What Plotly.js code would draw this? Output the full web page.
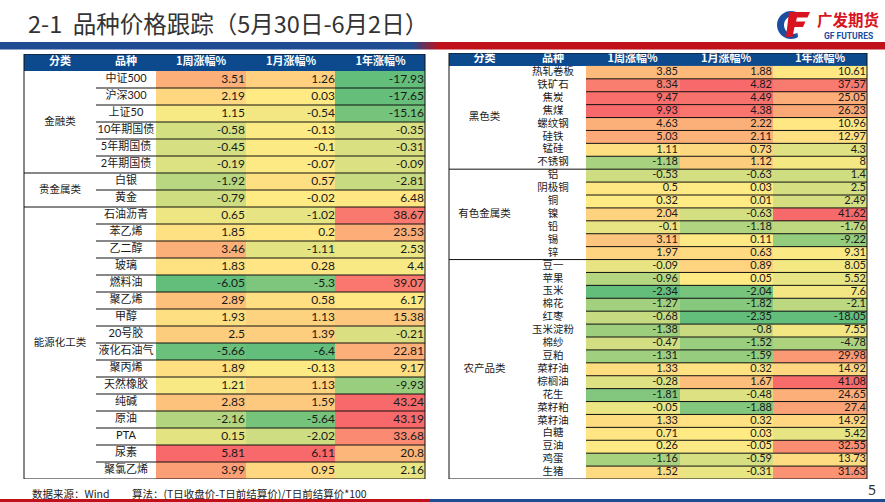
<!DOCTYPE html>
<html><head><meta charset="utf-8">
<script src="https://cdn.plot.ly/plotly-3.0.1.min.js"></script>
<style>html,body{margin:0;padding:0;background:#fff}#chart{width:885px;height:502px}</style>
</head><body><div id="chart"></div>
<script>
// ---------------- DATA ----------------
const headers = ['分类', '品种', '1周涨幅%', '1月涨幅%', '1年涨幅%'];

const leftGroups = ['金融类', '贵金属类', '能源化工类'];
const leftGroupSizes = [6, 2, 16];
const leftNames = ['中证500','沪深300','上证50','10年期国债','5年期国债','2年期国债','白银','黄金',
  '石油沥青','苯乙烯','乙二醇','玻璃','燃料油','聚乙烯','甲醇','20号胶','液化石油气','聚丙烯',
  '天然橡胶','纯碱','原油','PTA','尿素','聚氯乙烯'];
const leftWeek = [3.51,2.19,1.15,-0.58,-0.45,-0.19,-1.92,-0.79,0.65,1.85,3.46,1.83,-6.05,2.89,1.93,2.5,-5.66,1.89,1.21,2.83,-2.16,0.15,5.81,3.99];
const leftMonth = [1.26,0.03,-0.54,-0.13,-0.1,-0.07,0.57,-0.02,-1.02,0.2,-1.11,0.28,-5.3,0.58,1.13,1.39,-6.4,-0.13,1.13,1.59,-5.64,-2.02,6.11,0.95];
const leftYear = [-17.93,-17.65,-15.16,-0.35,-0.31,-0.09,-2.81,6.48,38.67,23.53,2.53,4.4,39.07,6.17,15.38,-0.21,22.81,9.17,-9.93,43.24,43.19,33.68,20.8,2.16];

const rightGroups = ['黑色类', '有色金属类', '农产品类'];
const rightGroupSizes = [8, 7, 17];
const rightNames = ['热轧卷板','铁矿石','焦炭','焦煤','螺纹钢','硅铁','锰硅','不锈钢',
  '铝','阴极铜','铜','镍','铅','锡','锌',
  '豆一','苹果','玉米','棉花','红枣','玉米淀粉','棉纱','豆粕','菜籽油','棕榈油','花生','菜籽粕','菜籽油','白糖','豆油','鸡蛋','生猪'];
const rightWeek = [3.85,8.34,9.47,9.93,4.63,5.03,1.11,-1.18,-0.53,0.5,0.32,2.04,-0.1,3.11,1.97,-0.09,-0.96,-2.34,-1.27,-0.68,-1.38,-0.47,-1.31,1.33,-0.28,-1.81,-0.05,1.33,0.71,0.26,-1.16,1.52];
const rightMonth = [1.88,4.82,4.49,4.38,2.22,2.11,0.73,1.12,-0.63,0.03,0.01,-0.63,-1.18,0.11,0.63,0.89,0.05,-2.04,-1.82,-2.35,-0.8,-1.52,-1.59,0.32,1.67,-0.48,-1.88,0.32,0.03,-0.05,-0.59,-0.31];
const rightYear = [10.61,37.57,25.05,26.23,10.96,12.97,4.3,8,1.4,2.5,2.49,41.62,-1.76,-9.22,9.31,8.05,5.52,7.6,-2.1,-18.05,7.55,-4.78,29.98,14.92,41.08,24.65,27.4,14.92,5.42,32.55,13.73,31.63];

const titleText = '2-1  品种价格跟踪（5月30日-6月2日）';
const sourceText = '数据来源：Wind';
const methodText = '算法：(T日收盘价-T日前结算价)/T日前结算价*100';
const pageNo = '5';

// ---------------- LAYOUT / STYLE ----------------
const W = 885, H = 502;
const CJK = 'Noto Sans CJK SC';
const NUMF = 'Lato, Noto Sans CJK SC';
const HEAD_BG = '#0D4A8D';
const LINE = '#111111';
const SCALE = [[0, '#63BE7B'], [0.5, '#FFEB84'], [1, '#F8696B']];

const LT = {edges: [24, 96, 156, 246, 336, 425], top: 54, bottom: 479, ya: 'y',
  numSize: 12, nameSize: 11, groupSize: 10.5, headSize: 11, rowLineFrom: 1};
const RT = {edges: [449, 520, 586, 679, 773, 867], top: 53, bottom: 479, ya: 'y2',
  numSize: 11, nameSize: 10.5, groupSize: 10.5, headSize: 11, rowLineFrom: 2};

// Excel-like 3-colour scale: min -> 0, median -> 0.5, max -> 1
function median(a) { const s = [...a].sort((p, q) => p - q); const n = s.length;
  return n % 2 ? s[(n - 1) / 2] : (s[n / 2 - 1] + s[n / 2]) / 2; }
function normalize(a) {
  const mn = Math.min(...a), mx = Math.max(...a), md = median(a);
  return a.map(v => v <= md ? (md === mn ? 0.5 : 0.5 * (v - mn) / (md - mn))
                            : 0.5 + 0.5 * (v - md) / (mx - md));
}

const traces = [];
const shapes = [];

function buildTable(cfg, groups, sizes, names, cols) {
  const n = names.length;
  const e = cfg.edges;
  const center = k => (e[k] + e[k + 1]) / 2;
  const idx = names.map((_, i) => i);
  const norm = cols.map(normalize);
  traces.push({type: 'heatmap', xaxis: 'x', yaxis: cfg.ya,
    x: [e[2], e[3], e[4], e[5]], y: idx,
    z: idx.map(i => norm.map(c => c[i])),
    colorscale: SCALE, zmin: 0, zmax: 1, showscale: false, hoverinfo: 'skip'});
  shapes.push({type: 'rect', xref: 'x', yref: cfg.ya, x0: e[0], x1: e[5], y0: -1.5, y1: -0.5,
    fillcolor: HEAD_BG, line: {width: 0}, layer: 'below'});
  traces.push({type: 'scatter', mode: 'text', xaxis: 'x', yaxis: cfg.ya,
    x: headers.map((_, k) => center(k)), y: headers.map(() => -1),
    text: headers.map(h => '<b>' + h + '</b>'), textposition: 'middle center',
    textfont: {family: CJK, size: cfg.headSize, color: '#ffffff'}, hoverinfo: 'skip'});
  traces.push({type: 'scatter', mode: 'text', xaxis: 'x', yaxis: cfg.ya,
    x: idx.map(() => center(1)), y: idx, text: names, textposition: 'middle center',
    textfont: {family: NUMF, size: cfg.nameSize, color: '#1a1a1a'}, hoverinfo: 'skip'});
  cols.forEach((c, k) => {
    traces.push({type: 'scatter', mode: 'text', xaxis: 'x', yaxis: cfg.ya,
      x: idx.map(() => e[k + 3] - 1), y: idx, text: c.map(v => String(v)),
      textposition: 'middle left',
      textfont: {family: NUMF, size: cfg.numSize, color: '#1a1a1a'}, hoverinfo: 'skip'});
  });
  let start = 0;
  const gy = [];
  const bounds = [];
  sizes.forEach(s => { gy.push(start + (s - 1) / 2); start += s; bounds.push(start); });
  traces.push({type: 'scatter', mode: 'text', xaxis: 'x', yaxis: cfg.ya,
    x: groups.map(() => center(0)), y: gy, text: groups, textposition: 'middle center',
    textfont: {family: CJK, size: cfg.groupSize, color: '#1a1a1a'}, hoverinfo: 'skip'});
  const groupEnds = new Set(bounds.slice(0, -1));
  for (let i = 1; i < n; i++) {
    const full = groupEnds.has(i);
    shapes.push({type: 'line', xref: 'x', yref: cfg.ya,
      x0: full ? e[0] : e[cfg.rowLineFrom], x1: e[5], y0: i - 0.5, y1: i - 0.5,
      line: {color: LINE, width: 1}});
  }
  shapes.push({type: 'rect', xref: 'x', yref: cfg.ya, x0: e[0], x1: e[5], y0: -1.5, y1: n - 0.5,
    line: {color: LINE, width: 1}, fillcolor: 'rgba(0,0,0,0)'});
}

buildTable(LT, leftGroups, leftGroupSizes, leftNames, [leftWeek, leftMonth, leftYear]);
buildTable(RT, rightGroups, rightGroupSizes, rightNames, [rightWeek, rightMonth, rightYear]);

// ---------- decorations (paper coords from pixels) ----------
const PX = x => x / W, PY = y => 1 - y / H;
function prect(x0, y0, x1, y1, color) {
  shapes.push({type: 'rect', xref: 'paper', yref: 'paper', x0: PX(x0), x1: PX(x1), y0: PY(y1), y1: PY(y0),
    fillcolor: color, line: {width: 0}, layer: 'below'});
}
function ppath(pts, color) {
  shapes.push({type: 'path', xref: 'paper', yref: 'paper', fillcolor: color, line: {width: 0},
    path: 'M ' + pts.map(p => PX(p[0]).toFixed(5) + ',' + PY(p[1]).toFixed(5)).join(' L ') + ' Z'});
}
prect(0, 42, 410, 49.5, '#1E4B91');
const blend = 8;
for (let k = 0; k < blend; k++) {
  const t = k / (blend - 1);
  const r = Math.round(0x1E + (0xC0 - 0x1E) * t), g = Math.round(0x4B + (0x10 - 0x4B) * t), b = Math.round(0x91 + (0x1A - 0x91) * t);
  prect(410 + k * 4, 42, 414 + k * 4, 49.5, `rgb(${r},${g},${b})`);
}
prect(442, 42, 885, 49.5, '#C0101A');
prect(0, 499, 430, 502, '#C0101A');
prect(430, 499, 885, 502, '#1E4B91');

// logo icon
const arc = [];
for (let a = 60; a <= 300; a += 10) { const r = a * Math.PI / 180; arc.push([791 + 14 * Math.cos(r), 25 - 14 * Math.sin(r)]); }
for (let a = 300; a >= 60; a -= 10) { const r = a * Math.PI / 180; arc.push([793 + 9 * Math.cos(r), 25 - 9 * Math.sin(r)]); }
ppath(arc, '#1B4E9E');
ppath([[789, 12], [810, 12], [807.5, 17.5], [797, 17.5], [796, 21.5], [805.5, 21.5], [803, 27], [794.5, 27], [792.5, 37], [786, 37]], '#D7141F');

const A = (text, x, y, font, xanchor) => ({text, x: PX(x), y: PY(y), xref: 'paper', yref: 'paper',
  xanchor: xanchor || 'center', yanchor: 'middle', showarrow: false, font});
const annotations = [
  A('<b>广发期货</b>', 848, 19.5, {family: CJK, size: 15.5, color: '#D7141F'}),
  A('<b>GF FUTURES</b>', 848, 35.5, {family: 'Roboto, DejaVu Sans', size: 8.5, color: '#1B4E9E'}),
  A(sourceText, 30, 493, {family: CJK, size: 10.5, color: '#222'}, 'left'),
  A(methodText, 130, 493, {family: CJK, size: 10.5, color: '#222'}, 'left'),
  A(pageNo, 872, 489, {family: 'Noto Sans', size: 14, color: '#333'})
];

const hidden = {visible: false, showgrid: false, zeroline: false, fixedrange: true};
const layout = {
  width: W, height: H,
  margin: {l: 0, r: 0, t: 0, b: 0, pad: 0},
  paper_bgcolor: '#ffffff', plot_bgcolor: 'rgba(0,0,0,0)',
  showlegend: false,
  title: {text: titleText, x: PX(28), xanchor: 'left', y: PY(25), yanchor: 'middle', xref: 'paper', yref: 'paper',
    font: {family: CJK, size: 23.5, color: '#333333'}},
  xaxis: Object.assign({domain: [0, 1], range: [0, W]}, hidden),
  yaxis: Object.assign({domain: [1 - LT.bottom / H, 1 - LT.top / H], range: [leftNames.length - 0.5, -1.5], anchor: 'x'}, hidden),
  yaxis2: Object.assign({domain: [1 - RT.bottom / H, 1 - RT.top / H], range: [rightNames.length - 0.5, -1.5], anchor: 'x'}, hidden),
  shapes: shapes,
  annotations: annotations
};
Plotly.newPlot('chart', traces, layout, {displayModeBar: false, staticPlot: true});
</script></body></html>
